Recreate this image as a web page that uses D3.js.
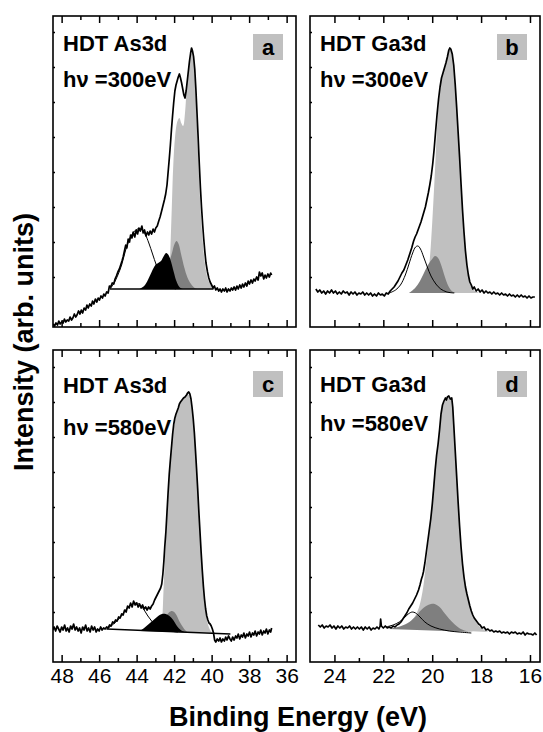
<!DOCTYPE html>
<html lang="en">
<head>
    <meta charset="UTF-8">
    <title>HDT As3d / Ga3d</title>
    <style>
        body { margin: 0; background: #fff; }
        svg { display: block; font-family: "Liberation Sans", Arial, sans-serif; }
        .frame { fill: none; stroke: #000; stroke-width: 1.6; }
        .tick line { stroke: #000; stroke-width: 1.5; }
        .tick text { font-size: 21px; fill: #000; }
        .spectrum { fill: none; stroke: #000; stroke-width: 1.7; stroke-linejoin: round; }
        .label { font-size: 22px; font-weight: bold; }
        .title { font-size: 27px; font-weight: bold; }
    </style>
</head>
<body>
    <script src="https://d3js.org/d3.v7.min.js"></script>
    <script>
        // axis ticks (eV)
        const leftMajor = [48, 46, 44, 42, 40, 38, 36];
        const leftMinor = [47, 45, 43, 41, 39, 37];
        const rightMajor = [24, 22, 20, 18, 16];
        const rightMinor = [23, 21, 19, 17];
        const yTickVals = [50, 85, 120, 155, 190, 225, 260, 295];

        // panel a: As3d, 300 eV  [binding energy, intensity]
        const spectrumA = [[48.45,3],[48.38,1],[48.3,4],[48.22,2],[48.15,6],[48.08,3],[48.0,5],[47.92,4],[47.85,8],[47.78,5],[47.7,7],[47.62,6],[47.55,10],[47.47,7],[47.4,9],[47.32,13],[47.25,10],[47.18,12],[47.1,16],[47.02,13],[46.95,17],[46.88,14],[46.8,19],[46.72,17],[46.65,22],[46.58,19],[46.5,23],[46.42,21],[46.35,26],[46.28,23],[46.2,28],[46.12,25],[46.05,29],[45.98,27],[45.9,31],[45.82,29],[45.75,33],[45.68,31],[45.6,35],[45.52,34],[45.45,41],[45.38,40],[45.3,44],[45.22,43],[45.15,48],[45.08,51],[45.0,55],[44.92,58],[44.85,62],[44.78,66],[44.72,70],[44.65,76],[44.58,82],[44.52,79],[44.45,88],[44.38,85],[44.32,92],[44.25,89],[44.18,95],[44.1,90],[44.02,97],[43.95,93],[43.88,99],[43.8,96],[43.72,101],[43.65,94],[43.58,97],[43.5,91],[43.42,95],[43.35,92],[43.28,96],[43.2,93],[43.12,98],[43.05,95],[42.98,99],[42.9,101],[42.82,106],[42.75,110],[42.68,115],[42.6,121],[42.52,127],[42.45,133],[42.38,142],[42.32,155],[42.26,168],[42.2,182],[42.14,198],[42.08,212],[42.02,225],[41.96,236],[41.9,242],[41.84,246],[41.78,250],[41.72,253],[41.66,249],[41.6,244],[41.54,238],[41.48,232],[41.42,229],[41.36,236],[41.3,246],[41.24,256],[41.18,266],[41.12,274],[41.07,279],[41.02,276],[40.96,270],[40.9,258],[40.84,238],[40.78,214],[40.72,190],[40.66,164],[40.6,140],[40.54,120],[40.48,103],[40.42,88],[40.36,75],[40.3,64],[40.22,55],[40.15,49],[40.08,45],[40.0,42],[39.92,39],[39.85,41],[39.78,37],[39.7,39],[39.62,36],[39.55,38],[39.48,35],[39.4,38],[39.32,36],[39.25,39],[39.18,35],[39.1,38],[39.02,36],[38.95,39],[38.88,37],[38.8,40],[38.72,37],[38.65,41],[38.58,38],[38.5,42],[38.42,39],[38.35,43],[38.28,40],[38.2,44],[38.12,41],[38.05,46],[37.98,43],[37.9,47],[37.82,44],[37.75,48],[37.68,46],[37.6,50],[37.52,47],[37.45,55],[37.38,51],[37.3,54],[37.22,48],[37.15,52],[37.08,49],[37.0,53],[36.92,50],[36.85,54],[36.8,52]];
        const backgroundA = [[45.42,38],[39.9,38]];
        const whiteA = [[45.42,38],[45.2,44],[45.0,52],[44.8,62],[44.6,76],[44.4,87],[44.2,94],[43.95,98],[43.75,98],[43.55,93],[43.35,84],[43.15,73],[42.95,62],[42.75,53],[42.5,45],[42.2,40],[41.9,38]];
        const lightA = [[42.4,38],[42.28,48],[42.2,78],[42.12,122],[42.05,160],[41.95,190],[41.82,206],[41.72,209],[41.62,204],[41.52,201],[41.42,214],[41.32,242],[41.2,264],[41.1,274],[41.0,270],[40.9,252],[40.8,210],[40.7,162],[40.6,122],[40.5,92],[40.4,70],[40.3,56],[40.2,48],[40.05,42],[39.85,38]];
        const darkA = [[43.1,38],[42.8,42],[42.5,52],[42.3,62],[42.1,75],[41.98,83],[41.87,86],[41.76,83],[41.62,72],[41.45,59],[41.3,50],[41.1,43],[40.9,39],[40.75,38]];
        const blackA = [[43.85,38],[43.6,41],[43.4,47],[43.2,55],[43.0,62],[42.85,64],[42.7,66],[42.55,71],[42.42,74],[42.3,72],[42.16,65],[42.02,55],[41.88,46],[41.72,40],[41.55,38]];

        // panel b: Ga3d, 300 eV
        const spectrumB = [[24.76,38],[24.68,35],[24.6,37],[24.52,34],[24.44,36],[24.36,33],[24.28,36],[24.2,34],[24.12,37],[24.04,34],[23.96,36],[23.88,33],[23.8,35],[23.72,33],[23.64,36],[23.56,34],[23.48,35],[23.4,32],[23.32,35],[23.24,33],[23.16,35],[23.08,32],[23.0,34],[22.92,33],[22.84,35],[22.76,32],[22.68,34],[22.6,32],[22.52,34],[22.44,31],[22.36,33],[22.28,31],[22.2,34],[22.12,32],[22.04,33],[21.96,31],[21.88,34],[21.8,33],[21.72,36],[21.64,38],[21.56,40],[21.48,43],[21.4,46],[21.32,50],[21.24,54],[21.16,57],[21.08,62],[21.0,67],[20.92,73],[20.84,79],[20.76,86],[20.7,90],[20.64,93],[20.58,97],[20.52,101],[20.46,105],[20.4,110],[20.34,115],[20.28,120],[20.22,127],[20.16,134],[20.1,142],[20.04,151],[19.98,163],[19.92,178],[19.86,196],[19.8,213],[19.74,228],[19.68,240],[19.62,249],[19.56,254],[19.5,259],[19.44,264],[19.38,270],[19.32,277],[19.28,279],[19.24,278],[19.18,273],[19.12,262],[19.06,243],[19.0,220],[18.94,195],[18.88,170],[18.82,143],[18.76,117],[18.7,95],[18.64,76],[18.58,62],[18.52,52],[18.46,45],[18.4,42],[18.34,38],[18.28,40],[18.2,36],[18.12,38],[18.04,35],[17.96,37],[17.88,34],[17.8,36],[17.72,34],[17.64,35],[17.56,33],[17.48,35],[17.4,33],[17.32,34],[17.24,32],[17.16,34],[17.08,32],[17.0,33],[16.92,31],[16.84,33],[16.76,31],[16.68,32],[16.6,30],[16.52,32],[16.44,30],[16.36,32],[16.28,30],[16.2,31],[16.12,29],[16.04,31],[15.96,29],[15.88,30],[15.8,30]];
        const whiteB = [[21.75,34],[21.5,37],[21.3,42],[21.1,52],[20.95,63],[20.8,74],[20.68,80],[20.58,81],[20.48,78],[20.35,70],[20.2,60],[20.05,51],[19.85,43],[19.65,38],[19.4,35],[19.1,34]];
        const lightB = [[20.35,34],[20.22,42],[20.12,62],[20.04,88],[19.96,122],[19.88,160],[19.8,200],[19.72,228],[19.62,247],[19.5,258],[19.4,267],[19.3,277],[19.22,276],[19.14,265],[19.06,243],[18.98,212],[18.9,178],[18.8,135],[18.7,95],[18.6,66],[18.5,50],[18.4,41],[18.25,36],[18.05,34]];
        const darkB = [[20.95,34],[20.7,39],[20.5,46],[20.3,56],[20.15,63],[20.0,68],[19.88,71],[19.76,69],[19.62,61],[19.48,50],[19.34,41],[19.2,36],[19.05,34]];

        // panel c: As3d, 580 eV
        const spectrumC = [[48.48,32],[48.4,35],[48.32,31],[48.24,36],[48.16,33],[48.08,30],[48.0,35],[47.92,32],[47.84,37],[47.76,31],[47.68,34],[47.6,30],[47.52,36],[47.44,33],[47.36,38],[47.28,32],[47.2,35],[47.12,31],[47.04,34],[46.96,29],[46.88,35],[46.8,32],[46.72,37],[46.64,31],[46.56,34],[46.48,30],[46.4,36],[46.32,32],[46.24,35],[46.16,30],[46.08,33],[46.0,31],[45.92,35],[45.84,32],[45.76,34],[45.68,33],[45.6,35],[45.52,34],[45.44,37],[45.36,36],[45.28,40],[45.2,39],[45.12,42],[45.04,41],[44.96,45],[44.88,44],[44.8,48],[44.72,47],[44.64,52],[44.56,50],[44.48,56],[44.4,54],[44.32,59],[44.24,55],[44.16,61],[44.08,57],[44.0,59],[43.92,55],[43.84,58],[43.76,54],[43.68,57],[43.6,53],[43.52,55],[43.44,52],[43.36,55],[43.28,53],[43.2,56],[43.12,58],[43.04,62],[42.96,65],[42.88,68],[42.8,71],[42.72,74],[42.66,78],[42.6,88],[42.55,100],[42.5,115],[42.44,130],[42.38,150],[42.32,170],[42.26,188],[42.2,202],[42.14,215],[42.08,228],[42.02,238],[41.96,244],[41.9,248],[41.84,251],[41.78,254],[41.72,258],[41.66,260],[41.58,262],[41.5,264],[41.42,265],[41.34,267],[41.28,269],[41.22,270],[41.16,268],[41.1,263],[41.04,254],[40.98,243],[40.92,229],[40.86,211],[40.8,192],[40.74,172],[40.68,150],[40.62,130],[40.56,110],[40.5,92],[40.44,76],[40.38,63],[40.32,53],[40.26,46],[40.2,42],[40.14,39],[40.08,38],[40.02,36],[39.96,33],[39.9,29],[39.84,22],[39.78,20],[39.7,23],[39.62,21],[39.55,24],[39.48,20],[39.4,23],[39.32,21],[39.25,25],[39.18,22],[39.1,26],[39.02,23],[38.95,21],[38.88,25],[38.8,22],[38.72,26],[38.65,24],[38.58,28],[38.5,23],[38.42,27],[38.35,25],[38.28,29],[38.2,24],[38.12,28],[38.05,26],[37.98,30],[37.9,25],[37.82,29],[37.75,27],[37.68,31],[37.6,26],[37.52,30],[37.45,28],[37.38,32],[37.3,27],[37.22,31],[37.15,29],[37.08,33],[37.0,28],[36.92,32],[36.85,30],[36.8,34]];
        const backgroundC = [[45.6,33],[39.0,28]];
        const whiteC = [[45.6,33],[45.3,37],[45.0,42],[44.7,49],[44.45,55],[44.2,58],[44.0,59],[43.8,57],[43.6,52],[43.4,46],[43.2,41],[42.95,36],[42.6,33],[42.2,31],[41.8,30]];
        const lightC = [[42.75,31],[42.65,40],[42.57,70],[42.5,100],[42.42,130],[42.34,160],[42.24,190],[42.12,218],[42.0,236],[41.88,247],[41.72,256],[41.55,262],[41.4,265],[41.28,268],[41.18,266],[41.08,258],[40.98,243],[40.88,220],[40.76,180],[40.64,135],[40.52,96],[40.4,66],[40.28,46],[40.15,35],[40.0,30],[39.8,29]];
        const darkC = [[43.1,31],[42.8,36],[42.55,43],[42.35,48],[42.15,51],[42.0,50],[41.85,46],[41.7,40],[41.5,34],[41.3,30],[41.15,29]];
        const blackC = [[43.85,31],[43.6,34],[43.35,38],[43.1,42],[42.85,46],[42.65,48],[42.45,48],[42.25,46],[42.05,42],[41.85,36],[41.65,32],[41.45,30]];

        // panel d: Ga3d, 580 eV
        const spectrumD = [[24.66,37],[24.58,35],[24.5,37],[24.42,34],[24.34,36],[24.26,35],[24.18,37],[24.1,34],[24.02,36],[23.94,33],[23.86,36],[23.78,34],[23.7,36],[23.62,33],[23.54,35],[23.46,34],[23.38,36],[23.3,33],[23.22,35],[23.14,33],[23.06,35],[22.98,33],[22.9,35],[22.82,32],[22.74,35],[22.66,33],[22.58,35],[22.5,32],[22.42,34],[22.34,33],[22.26,35],[22.18,33],[22.13,36],[22.11,43],[22.08,36],[22.0,34],[21.92,36],[21.84,34],[21.76,35],[21.68,34],[21.6,36],[21.52,35],[21.44,37],[21.36,38],[21.28,40],[21.2,43],[21.12,46],[21.04,49],[20.96,53],[20.88,56],[20.8,59],[20.72,63],[20.64,67],[20.56,72],[20.5,77],[20.44,83],[20.4,86],[20.36,90],[20.3,99],[20.24,110],[20.18,121],[20.12,132],[20.06,143],[20.0,157],[19.94,174],[19.88,192],[19.82,207],[19.76,218],[19.7,232],[19.64,248],[19.58,257],[19.52,261],[19.46,264],[19.42,262],[19.38,265],[19.32,266],[19.26,263],[19.2,264],[19.16,255],[19.12,238],[19.06,212],[19.0,186],[18.94,160],[18.88,136],[18.82,115],[18.76,98],[18.7,85],[18.64,75],[18.58,68],[18.52,62],[18.46,56],[18.4,51],[18.34,47],[18.28,44],[18.22,42],[18.16,40],[18.1,38],[18.04,37],[17.96,34],[17.88,35],[17.8,32],[17.72,33],[17.64,31],[17.56,32],[17.48,30],[17.4,31],[17.32,30],[17.24,31],[17.16,29],[17.08,30],[17.0,29],[16.92,30],[16.84,28],[16.76,30],[16.68,29],[16.6,30],[16.52,28],[16.44,29],[16.36,28],[16.28,30],[16.2,27],[16.12,29],[16.04,28],[15.96,28],[15.88,27],[15.8,29],[15.73,27]];
        const whiteD = [[21.9,35],[21.6,37],[21.35,40],[21.15,44],[20.98,48],[20.82,50],[20.68,49],[20.5,45],[20.3,40],[20.05,36],[19.7,33],[19.3,31],[18.9,30],[18.4,29]];
        const lightD = [[21.3,34],[21.0,38],[20.75,44],[20.55,54],[20.4,70],[20.28,92],[20.16,120],[20.04,150],[19.92,185],[19.8,212],[19.7,230],[19.6,252],[19.5,261],[19.4,263],[19.3,265],[19.2,262],[19.14,250],[19.06,215],[18.98,180],[18.88,138],[18.78,105],[18.66,82],[18.52,64],[18.38,50],[18.2,40],[18.0,34],[17.7,30]];
        const darkD = [[21.8,33],[21.4,35],[21.0,39],[20.7,45],[20.45,52],[20.25,56],[20.05,58],[19.9,58],[19.7,55],[19.5,49],[19.3,43],[19.1,38],[18.9,34],[18.6,31],[18.3,30]];

        const panels = [
            { tag: "a", col: 0, row: 0, line1: "HDT As3d", line2: "h\u03bd =300eV", spectrum: spectrumA, background: backgroundA, white: whiteA, light: lightA, dark: darkA, black: blackA },
            { tag: "b", col: 1, row: 0, line1: "HDT Ga3d", line2: "h\u03bd =300eV", spectrum: spectrumB, background: null, white: whiteB, light: lightB, dark: darkB, black: null },
            { tag: "c", col: 0, row: 1, line1: "HDT As3d", line2: "h\u03bd =580eV", spectrum: spectrumC, background: backgroundC, white: whiteC, light: lightC, dark: darkC, black: blackC },
            { tag: "d", col: 1, row: 1, line1: "HDT Ga3d", line2: "h\u03bd =580eV", spectrum: spectrumD, background: null, white: whiteD, light: lightD, dark: darkD, black: null }
        ];

        // layout
        const width = 543, height = 732;
        const colX = [[53, 296], [310, 540]];
        const rowY = [[16, 327], [350, 662]];
        const xDomains = [[48.46, 35.5], [25.0, 15.59]];
        const majors = [leftMajor, rightMajor];
        const minors = [leftMinor, rightMinor];
        const textBase = { a: [50.5, 86.5], b: [50.5, 86.5], c: [393, 435], d: [392, 431] };
        const boxTop = [34, 371];

        const svg = d3.select("body").append("svg")
            .attr("width", width)
            .attr("height", height);

        panels.forEach(p => {
            const [xa, xb] = colX[p.col];
            const [ya, yb] = rowY[p.row];

            const x = d3.scaleLinear().domain(xDomains[p.col]).range([xa, xb]);
            const y = d3.scaleLinear().domain([0, yb - ya]).range([yb, ya]);

            const g = svg.append("g");

            const clipId = "clip-" + p.tag;
            g.append("clipPath").attr("id", clipId)
                .append("rect").attr("x", xa).attr("y", ya).attr("width", xb - xa).attr("height", yb - ya);

            const plot = g.append("g").attr("clip-path", `url(#${clipId})`);

            const smooth = d3.line().x(d => x(d[0])).y(d => y(d[1])).curve(d3.curveCatmullRom.alpha(0.5));
            const straight = d3.line().x(d => x(d[0])).y(d => y(d[1]));

            // fitted components, back to front
            plot.append("path").attr("d", smooth(p.white) + "Z").attr("fill", "#fff");
            plot.append("path").attr("d", smooth(p.light) + "Z").attr("fill", "#c0c0c0");
            plot.append("path").attr("d", smooth(p.dark) + "Z").attr("fill", "#7f7f7f");
            if (p.black) plot.append("path").attr("d", smooth(p.black) + "Z").attr("fill", "#000");
            plot.append("path").attr("d", smooth(p.white))
                .attr("fill", "none").attr("stroke", "#000").attr("stroke-width", 1);
            if (p.background) plot.append("path").attr("d", straight(p.background))
                .attr("fill", "none").attr("stroke", "#000").attr("stroke-width", 1.5);

            // measured spectrum
            plot.append("path").attr("class", "spectrum").attr("d", straight(p.spectrum));

            // ticks: top and bottom inward, labels only under the lower row
            const showLabels = p.row === 1;
            g.append("g").attr("transform", `translate(0,${yb})`)
                .call(d3.axisBottom(x).tickValues(majors[p.col]).tickSizeInner(-7).tickSizeOuter(0).tickPadding(6)
                    .tickFormat(showLabels ? d3.format("d") : () => ""))
                .call(a => a.select(".domain").remove());
            g.append("g").attr("transform", `translate(0,${yb})`)
                .call(d3.axisBottom(x).tickValues(minors[p.col]).tickSizeInner(-4).tickSizeOuter(0).tickFormat(() => ""))
                .call(a => a.select(".domain").remove());
            g.append("g").attr("transform", `translate(0,${ya})`)
                .call(d3.axisTop(x).tickValues(majors[p.col]).tickSizeInner(-7).tickSizeOuter(0).tickFormat(() => ""))
                .call(a => a.select(".domain").remove());
            g.append("g").attr("transform", `translate(0,${ya})`)
                .call(d3.axisTop(x).tickValues(minors[p.col]).tickSizeInner(-4).tickSizeOuter(0).tickFormat(() => ""))
                .call(a => a.select(".domain").remove());
            g.append("g").attr("transform", `translate(${xa},0)`)
                .call(d3.axisLeft(y).tickValues(yTickVals).tickSizeInner(-2).tickSizeOuter(0).tickFormat(() => ""))
                .call(a => a.select(".domain").remove())
                .selectAll("line").attr("stroke-width", 1);
            g.selectAll(".tick text").attr("font-family", null).attr("font-size", null);

            g.append("rect").attr("class", "frame")
                .attr("x", xa).attr("y", ya).attr("width", xb - xa).attr("height", yb - ya);

            // panel texts
            const tb = textBase[p.tag];
            g.append("text").attr("class", "label").attr("x", xa + 10).attr("y", tb[0]).text(p.line1);
            g.append("text").attr("class", "label").attr("x", xa + 10).attr("y", tb[1]).text(p.line2);

            const bx = xb - 43, by = boxTop[p.row];
            g.append("rect").attr("x", bx).attr("y", by).attr("width", 30).attr("height", 26).attr("fill", "#c0c0c0");
            g.append("text").attr("class", "label").attr("x", bx + 15).attr("y", by + 21)
                .attr("text-anchor", "middle").text(p.tag);
        });

        svg.append("text").attr("class", "title")
            .attr("x", 298).attr("y", 726).attr("text-anchor", "middle")
            .text("Binding Energy (eV)");
        svg.append("text").attr("class", "title")
            .attr("transform", "translate(33,342) rotate(-90)").attr("text-anchor", "middle")
            .text("Intensity (arb. units)");
    </script>
</body>
</html>
